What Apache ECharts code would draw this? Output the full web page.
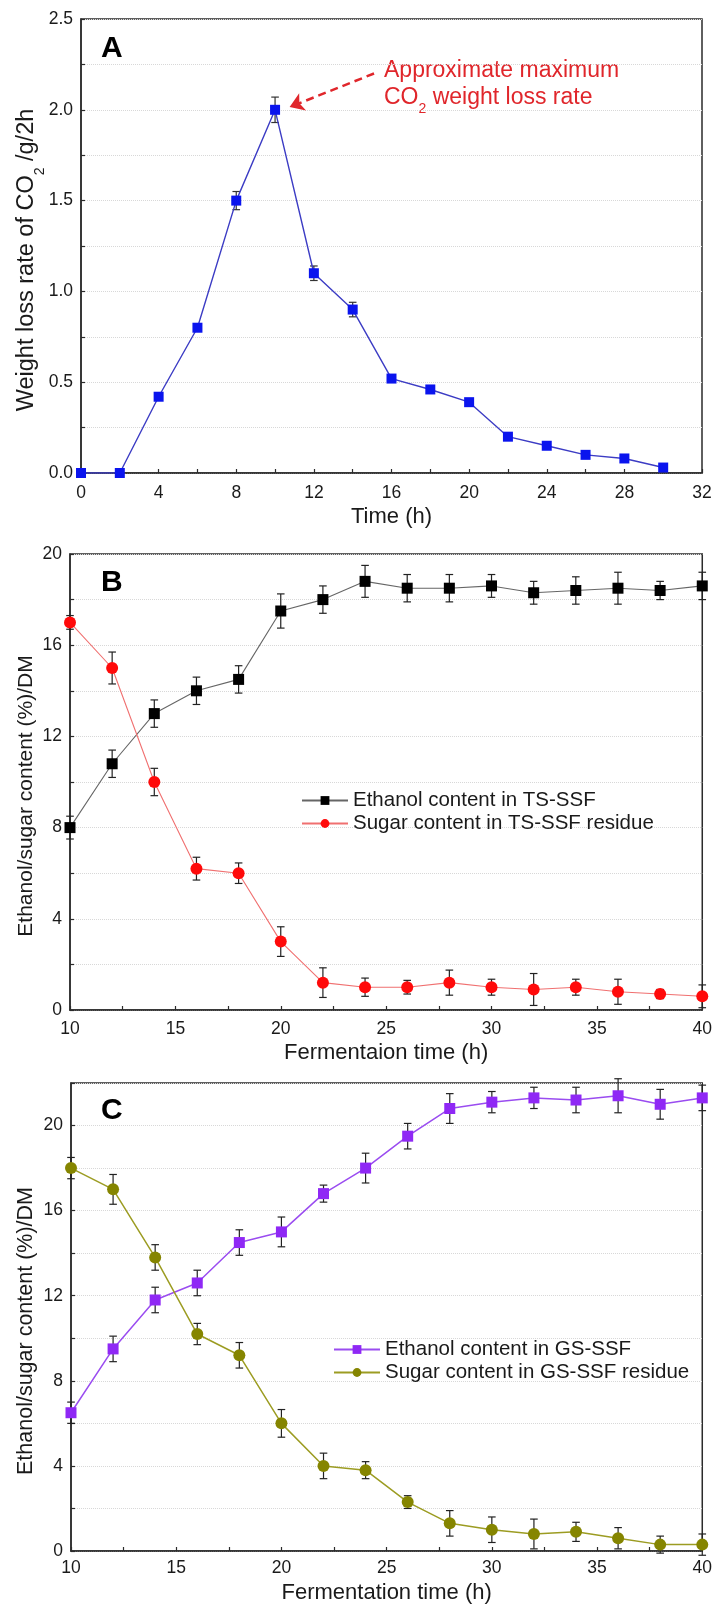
<!DOCTYPE html>
<html>
<head>
<meta charset="utf-8">
<script src="https://cdn.jsdelivr.net/npm/echarts@6/dist/echarts.min.js"></script>
<style>
html,body{margin:0;padding:0;background:#fff;}
#chart{width:715px;height:1607px;}
</style>
</head>
<body>
<div id="chart"></div>
<script>
// ---------- Data ----------
const timeA = [0, 2, 4, 6, 8, 10, 12, 14, 16, 18, 20, 22, 24, 26, 28, 30];
const rateA = [0, 0, 0.42, 0.80, 1.50, 2.00, 1.10, 0.90, 0.52, 0.46, 0.39, 0.20, 0.15, 0.10, 0.08, 0.03];
const rateErrA = [0, 0, 0.01, 0.01, 0.05, 0.07, 0.04, 0.04, 0.02, 0.01, 0.01, 0.01, 0.01, 0.01, 0.01, 0.01];

const timeBC = [10, 12, 14, 16, 18, 20, 22, 24, 26, 28, 30, 32, 34, 36, 38, 40];
const ethanolB = [8.0, 10.8, 13.0, 14.0, 14.5, 17.5, 18.0, 18.8, 18.5, 18.5, 18.6, 18.3, 18.4, 18.5, 18.4, 18.6];
const ethanolErrB = [0.5, 0.6, 0.6, 0.6, 0.6, 0.75, 0.6, 0.7, 0.6, 0.6, 0.5, 0.5, 0.6, 0.7, 0.4, 0.6];
const sugarB = [17.0, 15.0, 10.0, 6.2, 6.0, 3.0, 1.2, 1.0, 1.0, 1.2, 1.0, 0.9, 1.0, 0.8, 0.7, 0.6];
const sugarErrB = [0.3, 0.7, 0.6, 0.5, 0.45, 0.65, 0.65, 0.4, 0.3, 0.55, 0.35, 0.7, 0.35, 0.55, 0.2, 0.5];

const ethanolC = [6.5, 9.5, 11.8, 12.6, 14.5, 15.0, 16.8, 18.0, 19.5, 20.8, 21.1, 21.3, 21.2, 21.4, 21.0, 21.3];
const ethanolErrC = [0.5, 0.6, 0.6, 0.6, 0.6, 0.7, 0.4, 0.7, 0.6, 0.7, 0.5, 0.5, 0.6, 0.8, 0.7, 0.6];
const sugarC = [18.0, 17.0, 13.8, 10.2, 9.2, 6.0, 4.0, 3.8, 2.3, 1.3, 1.0, 0.8, 0.9, 0.6, 0.3, 0.3];
const sugarErrC = [0.5, 0.7, 0.6, 0.5, 0.6, 0.65, 0.6, 0.4, 0.3, 0.6, 0.6, 0.7, 0.45, 0.5, 0.4, 0.5];

const seriesNames = {
  eB: 'Ethanol content in TS-SSF',
  sB: 'Sugar content in TS-SSF residue',
  eC: 'Ethanol content in GS-SSF',
  sC: 'Sugar content in GS-SSF residue'
};

// annotation arrow (data coordinates of panel A): tail -> head
const arrowTail = [15.1, 2.2];
const arrowHead = [10.75, 2.015];

// ---------- Helpers ----------
const FONT = 'Liberation Sans, Arial, sans-serif';
function pairs(xs, ys) { return xs.map((x, i) => [x, ys[i]]); }
function triples(xs, ys, es) { return xs.map((x, i) => [x, ys[i], es[i]]); }

function errorSeries(idx, xs, ys, es, color) {
  return {
    type: 'custom',
    xAxisIndex: idx, yAxisIndex: idx,
    data: triples(xs, ys, es),
    z: 3,
    silent: true,
    renderItem: function (params, api) {
      const x = api.value(0), y = api.value(1), e = api.value(2);
      const hi = api.coord([x, y + e]);
      const lo = api.coord([x, y - e]);
      const cw = 3.8;
      const st = { stroke: color, lineWidth: 1.2 };
      return {
        type: 'group',
        children: [
          { type: 'line', shape: { x1: hi[0], y1: hi[1], x2: lo[0], y2: lo[1] }, style: st },
          { type: 'line', shape: { x1: hi[0] - cw, y1: hi[1], x2: hi[0] + cw, y2: hi[1] }, style: st },
          { type: 'line', shape: { x1: lo[0] - cw, y1: lo[1], x2: lo[0] + cw, y2: lo[1] }, style: st }
        ]
      };
    }
  };
}

const axisLineStyle = { show: true, onZero: false, lineStyle: { color: '#2b2b2b', width: 1.5 } };
const splitDotted = { show: true, lineStyle: { color: '#d8d8d8', type: 'dotted', width: 1 } };

function xAxis(idx, min, max, interval, labelEvery, name, margin, nameGap) {
  return {
    type: 'value', gridIndex: idx, min: min, max: max, interval: interval,
    axisLine: axisLineStyle,
    axisTick: { show: true, inside: true, length: 4, lineStyle: { color: '#2b2b2b', width: 1.2 } },
    splitLine: { show: false },
    axisLabel: {
      margin: margin, fontFamily: FONT, fontSize: 17.5, color: '#1a1a1a',
      formatter: v => (Math.abs(Math.round(v * 100) % Math.round(labelEvery * 100)) === 0 ? String(v) : '')
    },
    name: name, nameLocation: 'middle', nameGap: nameGap, nameMoveOverlap: false,
    nameTextStyle: { fontFamily: FONT, fontSize: 22, color: '#1a1a1a' }
  };
}

function yAxis(idx, min, max, interval, labelEvery, decimals, name, nameGap, fontSize, rich) {
  const o = {
    type: 'value', gridIndex: idx, min: min, max: max, interval: interval,
    axisLine: axisLineStyle,
    axisTick: { show: true, inside: true, length: 4, lineStyle: { color: '#2b2b2b', width: 1.2 } },
    splitLine: splitDotted,
    axisLabel: {
      margin: 8, fontFamily: FONT, fontSize: 17.5, color: '#1a1a1a',
      formatter: v => (Math.abs(Math.round(v * 100) % Math.round(labelEvery * 100)) === 0 ? v.toFixed(decimals) : '')
    },
    name: name, nameLocation: 'middle', nameGap: nameGap, nameRotate: 90, nameMoveOverlap: false,
    nameTextStyle: { fontFamily: FONT, fontSize: fontSize, color: '#1a1a1a', padding: [0, 28, 0, 0] }
  };
  if (rich) o.nameTextStyle.rich = rich;
  return o;
}

const chart = echarts.init(document.getElementById('chart'), null, { renderer: 'canvas' });

const option = {
  backgroundColor: '#ffffff',
  animation: false,
  grid: [
    { left: 81, right: 13, top: 19, height: 454, show: true, borderColor: '#2b2b2b', borderWidth: 1.5, backgroundColor: 'transparent' },
    { left: 70, right: 9, top: 554, height: 456, show: true, borderColor: '#2b2b2b', borderWidth: 1.5, backgroundColor: 'transparent' },
    { left: 71, right: 6, top: 1083, height: 468, show: true, borderColor: '#2b2b2b', borderWidth: 1.5, backgroundColor: 'transparent' }
  ],
  xAxis: [
    xAxis(0, 0, 32, 2, 4, 'Time (h)', 11, 33),
    xAxis(1, 10, 40, 2.5, 5, 'Fermentaion time (h)', 10, 32),
    xAxis(2, 10, 40, 2.5, 5, 'Fermentation time (h)', 8, 31)
  ],
  yAxis: [
    yAxis(0, 0, 2.5, 0.25, 0.5, 1, '{t|Weight loss rate of CO}{s|2}{t| /g/2h}', 40, 23.5,
      { t: { fontFamily: FONT, fontSize: 23.5, color: '#1a1a1a', lineHeight: 28 },
        s: { fontFamily: FONT, fontSize: 14, color: '#1a1a1a', verticalAlign: 'bottom', lineHeight: 28, padding: [0, 0, -6, 0] } }),
    yAxis(1, 0, 20, 2, 4, 0, 'Ethanol/sugar content (%)/DM', 33, 21),
    yAxis(2, 0, 22, 2, 4, 0, 'Ethanol/sugar content (%)/DM', 33.5, 21.5)
  ],
  legend: [
    {
      orient: 'vertical', left: 296, top: 785, itemWidth: 46, itemHeight: 11, itemGap: 2,
      textStyle: { fontFamily: FONT, fontSize: 20.5, color: '#1a1a1a' },
      data: [seriesNames.eB, seriesNames.sB]
    },
    {
      orient: 'vertical', left: 328, top: 1334, itemWidth: 46, itemHeight: 11, itemGap: 2,
      textStyle: { fontFamily: FONT, fontSize: 20.5, color: '#1a1a1a' },
      data: [seriesNames.eC, seriesNames.sC]
    }
  ],
  graphic: [
    { type: 'text', left: 101, top: 34, style: { text: 'A', font: 'bold 30px ' + FONT, fill: '#000' } },
    { type: 'text', left: 101, top: 568, style: { text: 'B', font: 'bold 30px ' + FONT, fill: '#000' } },
    { type: 'text', left: 101, top: 1096, style: { text: 'C', font: 'bold 30px ' + FONT, fill: '#000' } },
    {
      type: 'text', left: 384, top: 59,
      style: {
        text: '{t|Approximate maximum}\n{t|CO}{s|2}{t| weight loss rate}',
        rich: {
          t: { fontFamily: FONT, fontSize: 23, fill: '#e0262b', lineHeight: 27 },
          s: { fontFamily: FONT, fontSize: 14, fill: '#e0262b', lineHeight: 27, verticalAlign: 'bottom', padding: [0, 0, -5, 0] }
        }
      }
    }
  ],
  series: [
    // Panel A
    errorSeries(0, timeA, rateA, rateErrA, '#333333'),
    {
      type: 'line', xAxisIndex: 0, yAxisIndex: 0, name: 'CO2 rate',
      data: pairs(timeA, rateA), z: 4,
      symbol: 'rect', symbolSize: 10,
      itemStyle: { color: '#0a14ee' },
      lineStyle: { color: '#3c3cc4', width: 1.4 },
      markLine: {
        silent: true, symbol: ['none', 'arrow'], symbolSize: 14,
        lineStyle: { color: '#e0262b', type: [8, 5], width: 2.5 },
        label: { show: false },
        emphasis: { disabled: true },
        data: [[{ coord: arrowTail }, { coord: arrowHead }]]
      }
    },
    // Panel B
    errorSeries(1, timeBC, ethanolB, ethanolErrB, '#222222'),
    errorSeries(1, timeBC, sugarB, sugarErrB, '#222222'),
    {
      type: 'line', xAxisIndex: 1, yAxisIndex: 1, name: seriesNames.eB,
      data: pairs(timeBC, ethanolB), z: 4,
      symbol: 'rect', symbolSize: 11,
      itemStyle: { color: '#000000' },
      lineStyle: { color: '#666666', width: 1.1 }
    },
    {
      type: 'line', xAxisIndex: 1, yAxisIndex: 1, name: seriesNames.sB,
      data: pairs(timeBC, sugarB), z: 4,
      symbol: 'circle', symbolSize: 12,
      itemStyle: { color: '#ff0a0a' },
      lineStyle: { color: '#f07070', width: 1.1 }
    },
    // Panel C
    errorSeries(2, timeBC, ethanolC, ethanolErrC, '#222222'),
    errorSeries(2, timeBC, sugarC, sugarErrC, '#222222'),
    {
      type: 'line', xAxisIndex: 2, yAxisIndex: 2, name: seriesNames.eC,
      data: pairs(timeBC, ethanolC), z: 4,
      symbol: 'rect', symbolSize: 11,
      itemStyle: { color: '#8f28f5' },
      lineStyle: { color: '#9a4cf0', width: 1.5 }
    },
    {
      type: 'line', xAxisIndex: 2, yAxisIndex: 2, name: seriesNames.sC,
      data: pairs(timeBC, sugarC), z: 4,
      symbol: 'circle', symbolSize: 12,
      itemStyle: { color: '#858500' },
      lineStyle: { color: '#9c9c22', width: 1.5 }
    }
  ]
};
chart.setOption(option);
</script>
</body>
</html>
